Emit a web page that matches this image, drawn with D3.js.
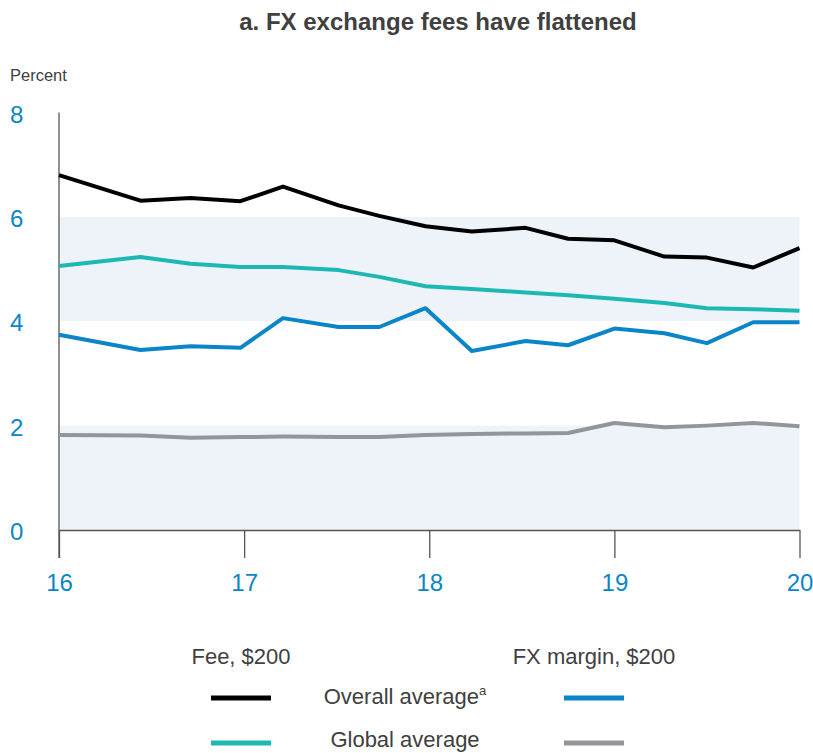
<!DOCTYPE html>
<html><head><meta charset="utf-8">
<script src="https://cdn.jsdelivr.net/npm/d3@7"></script>
<style>body{margin:0;background:#fff}svg{display:block;font-family:"Liberation Sans",Arial,sans-serif}</style>
</head><body><svg id="c" width="813" height="753"></svg>
<script>
// Data (year 20xx, decimal)
const dates = [16.0,16.44,16.71,16.98,17.21,17.51,17.73,17.98,18.23,18.52,18.75,19.0,19.27,19.5,19.75,20.0];
const feeOverall = [6.80,6.31,6.36,6.30,6.58,6.22,6.02,5.82,5.72,5.79,5.58,5.55,5.24,5.22,5.03,5.40];
const feeGlobal  = [5.06,5.23,5.10,5.04,5.04,4.98,4.85,4.67,4.62,4.55,4.50,4.43,4.35,4.25,4.23,4.20];
const fxOverall  = [3.74,3.45,3.52,3.49,4.06,3.89,3.89,4.25,3.43,3.62,3.54,3.86,3.77,3.58,3.98,3.98];
const fxGlobal   = [1.82,1.81,1.77,1.78,1.79,1.78,1.78,1.82,1.84,1.85,1.86,2.05,1.97,2.00,2.05,1.99];
const xTicks = [16,17,18,19,20];
const yTicks = [0,2,4,6,8];
const bands = [[0,2],[4,6]];
const title = "a. FX exchange fees have flattened";
const yLabel = "Percent";
const legendHeads = ["Fee, $200","FX margin, $200"];
const legendRows = ["Overall average","Global average"];

const svg = d3.select("#c");
const x = d3.scaleLinear().domain([16,20]).range([59,799.5]);
const y = d3.scaleLinear().domain([0,8]).range([530,112.5]);
const blue="#0a86c8", teal="#1db8b3", grey="#939598", txt="#404040";

// bands
svg.selectAll("rect.band").data(bands).join("rect")
  .attr("x",x(16)).attr("width",x(20)-x(16))
  .attr("y",d=>y(d[1])).attr("height",d=>y(d[0])-y(d[1]))
  .attr("fill","#eef3fa");

// title
svg.append("text").attr("x",438).attr("y",30).attr("text-anchor","middle")
  .attr("font-size",24).attr("font-weight","bold").attr("fill",txt).text(title);
svg.append("text").attr("x",10).attr("y",81).attr("font-size",16.5).attr("fill",txt).text(yLabel);

// y axis line
svg.append("line").attr("x1",x(16)).attr("x2",x(16)).attr("y1",y(8)).attr("y2",558)
  .attr("stroke","#555").attr("stroke-width",1.3);
// x axis
const xa = svg.append("g").attr("transform",`translate(0,${y(0)})`)
  .call(d3.axisBottom(x).tickValues(xTicks).tickFormat(d3.format("d")).tickSize(28).tickSizeOuter(0).tickPadding(16));
xa.select(".domain").attr("stroke","#555").attr("stroke-width",1.3);
xa.selectAll(".tick line").attr("stroke","#555").attr("stroke-width",1.3);
xa.selectAll(".tick text").attr("font-size",24).attr("fill",blue).attr("font-family","Liberation Sans, Arial, sans-serif");
// y labels
const ya = svg.append("g").attr("transform",`translate(${x(16)},0)`)
  .call(d3.axisLeft(y).tickValues(yTicks).tickFormat(d3.format("d")).tickSize(0).tickPadding(49));
ya.select(".domain").remove();
ya.selectAll(".tick text").attr("font-size",24).attr("fill",blue).attr("text-anchor","start").attr("dy","0.4em")
  .attr("font-family","Liberation Sans, Arial, sans-serif");

const line = d3.line().x((d,i)=>x(dates[i])).y(d=>y(d));
const series = [[fxGlobal,grey],[fxOverall,blue],[feeGlobal,teal],[feeOverall,"#000"]];
svg.selectAll("path.s").data(series).join("path").attr("class","s")
  .attr("d",d=>line(d[0])).attr("fill","none").attr("stroke",d=>d[1])
  .attr("stroke-width",4).attr("stroke-linejoin","round");

// legend
svg.selectAll("text.lh").data(legendHeads).join("text")
  .attr("x",(d,i)=>[241,594][i]).attr("y",664).attr("text-anchor","middle")
  .attr("font-size",22).attr("fill",txt).text(d=>d);
const rowsY=[698,743];
const t1 = svg.append("text").attr("x",405).attr("y",704).attr("text-anchor","middle").attr("font-size",22).attr("fill",txt);
t1.append("tspan").text(legendRows[0]);
t1.append("tspan").attr("font-size",13).attr("dy",-9).text("a");
svg.append("text").attr("x",405).attr("y",747).attr("text-anchor","middle").attr("font-size",22).attr("fill",txt).text(legendRows[1]);
const swatches=[[211,rowsY[0],"#000"],[564,rowsY[0],blue],[211,rowsY[1],teal],[564,rowsY[1],grey]];
svg.selectAll("line.sw").data(swatches).join("line")
  .attr("x1",d=>d[0]).attr("x2",d=>d[0]+60).attr("y1",d=>d[1]).attr("y2",d=>d[1])
  .attr("stroke",d=>d[2]).attr("stroke-width",5);
</script></body></html>
